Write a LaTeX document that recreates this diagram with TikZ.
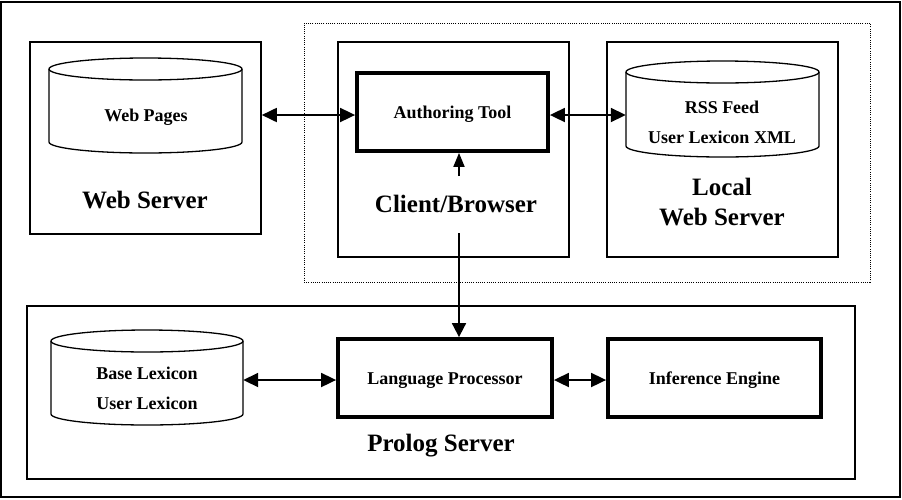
\documentclass[tikz,border=0pt]{standalone}
\usepackage{fontspec}
\setmainfont{Liberation Serif}
\usetikzlibrary{arrows.meta,calc}
\newcommand\dbcyl[5]{%
  \draw[cylline] ({(#1+#2)/2},-#3) ellipse [x radius={(#2-#1)/2}, y radius=#5];
  \draw[cylline] (#1,-#3) -- (#1,-#4) arc[start angle=180,end angle=360,x radius={(#2-#1)/2},y radius=#5] -- (#2,-#3);
}
\newcommand\smalltxt{\bfseries\fontsize{18}{30}\selectfont}
\newcommand\bigtxt{\bfseries\fontsize{25}{30}\selectfont}
\begin{document}
\begin{tikzpicture}[x=1pt,y=1pt,
  thinbox/.style={draw, line width=1.6pt, inner sep=0pt},
  thickbox/.style={draw, line width=3.8pt, inner sep=0pt, font=\smalltxt, text height=17pt, text depth=4pt},
  cylline/.style={line width=1.3pt},
  dotbox/.style={draw, line width=1pt, dash pattern=on 1pt off 1.2pt, inner sep=0pt},
  arr/.style={line width=1.8pt, {Triangle[length=15pt,width=14pt]}-{Triangle[length=15pt,width=14pt]}},
  down/.style={line width=1.8pt, -{Triangle[length=14pt,width=14pt]}},
  small/.style={font=\smalltxt, align=center, inner sep=0pt},
  big/.style={font=\bigtxt, align=center, inner sep=0pt},
]
\useasboundingbox (0,0) rectangle (902,-499);
% outer frame
\node[thinbox, line width=1.5pt, minimum width=899pt, minimum height=495pt] (frame) at (450.5,-249.5) {};
% dotted client group
\node[dotbox, minimum width=566pt, minimum height=259pt] (grp) at (587,-152.5) {};
% upper boxes
\node[thinbox, minimum width=231pt, minimum height=192pt] (ws) at (145.5,-138) {};
\node[thinbox, minimum width=231pt, minimum height=215pt] (cb) at (453.5,-149.5) {};
\node[thinbox, minimum width=231pt, minimum height=215pt] (lws) at (722.5,-149.5) {};
\node[thickbox, minimum width=191pt, minimum height=78pt] (at) at (452.5,-112) {Authoring Tool};
% prolog server
\node[thinbox, minimum width=828pt, minimum height=173pt] (ps) at (441,-392.5) {};
\node[thickbox, minimum width=214pt, minimum height=78pt] (lp) at (445,-378) {Language Processor};
\node[thickbox, minimum width=213pt, minimum height=78pt] (ie) at (714.5,-378) {Inference Engine};
% cylinders
\dbcyl{49}{242}{69}{142}{11}
\dbcyl{626}{819}{72}{146}{11}
\dbcyl{51}{243}{341}{414}{11}
\node[inner sep=0pt, minimum width=193pt, minimum height=96pt] (wp) at (145.5,-105) {};
\node[inner sep=0pt, minimum width=193pt, minimum height=96pt] (rss) at (722.5,-109) {};
\node[inner sep=0pt, minimum width=192pt, minimum height=96pt] (bl) at (147,-378) {};
\node[small] (wpt) at (146,-117) {Web Pages};
\node[small] (rsst) at (722,-122) {RSS Feed\\User Lexicon XML};
\node[small] (blt) at (147,-388) {Base Lexicon\\User Lexicon};
% big labels
\node[big] (wst) at (145,-200) {Web Server};
\node[big] (cbt) at (456,-204) {Client/Browser};
\node[big] (lwst) at (722,-202) {Local\\Web Server};
\node[big] (pst) at (441,-446) {Prolog Server};
% connectors
\coordinate (r1) at (0,-115);
\coordinate (r2) at (0,-380);
\draw[arr] (ws.east |- r1) -- (at.west |- r1);
\draw[arr] (at.east |- r1) -- (rss.west |- r1);
\draw[arr] (bl.east |- r2) -- (lp.west |- r2);
\draw[arr] (lp.east |- r2) -- (ie.west |- r2);
\coordinate (cbout) at (459,-233);
\draw[down] (cbout) -- (lp.north -| cbout);
\coordinate (upfoot) at (459,-176);
\draw[line width=1.8pt, -{Triangle[length=14pt,width=11pt]}] (upfoot) -- (at.south -| upfoot);
\end{tikzpicture}
\end{document}
